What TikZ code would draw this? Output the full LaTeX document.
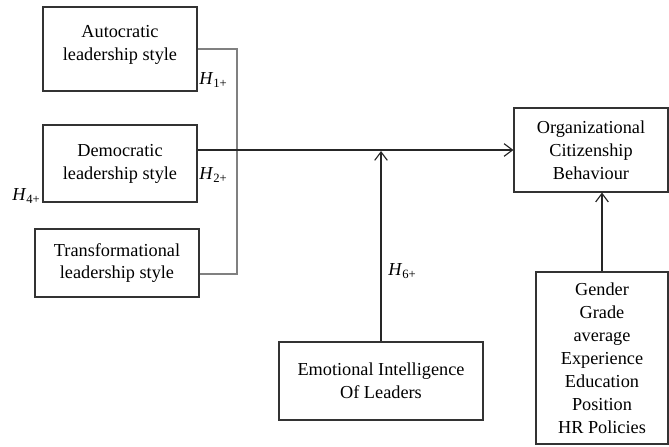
\documentclass[tikz,border=0pt]{standalone}
\usepackage{fontspec}
\setmainfont{Liberation Serif}
\usetikzlibrary{arrows.meta}
\newcommand{\hyp}[1]{\textit{H}\raisebox{-0.45ex}{\fontsize{9}{9}\selectfont #1+}}

\begin{document}
\begin{tikzpicture}[scale=0.25]
\tikzstyle{every node}+=[inner sep=0pt, font=\fontsize{13}{16.3}\selectfont]
\tikzstyle{box}=[draw=black!80, line width=0.8pt, align=center]
\tikzstyle{link}=[draw=black!85, line width=0.8pt]
\tikzstyle{bracket}=[draw=black!50, line width=0.8pt]
\tikzstyle{arr}=[link, -{Straight Barb[length=6pt,width=9pt]}]
\useasboundingbox (0,0) rectangle (66.9,-44.6);
% leadership styles
\node [box, minimum width=3.85cm, minimum height=2.1cm, text depth=8pt] (auto) at (12,-4.9) {Autocratic\\leadership style};
\node [box, minimum width=3.85cm, minimum height=1.925cm] (demo) at (12,-16.35) {Democratic\\leadership style};
\node [box, minimum width=4.1cm, minimum height=1.7cm] (trans) at (11.7,-26.3) {Transformational\\leadership style};
% outcome, moderator, controls
\node [box, minimum width=3.85cm, minimum height=2.1cm] (ocb) at (59.1,-15) {Organizational\\Citizenship\\Behaviour};
\node [box, minimum width=5.1cm, minimum height=1.95cm] (ei) at (38.1,-38.1) {Emotional Intelligence\\Of Leaders};
\node [box, minimum width=3.3cm, minimum height=4.3cm] (ctrl) at (60.2,-35.8) {Gender\\Grade\\average\\Experience\\Education\\Position\\HR Policies};
% hypotheses
\node (h1) at (21.3,-8) {\hyp{1}};
\node (h2) at (21.3,-17.5) {\hyp{2}};
\node (h4) at (2.6,-19.6) {\hyp{4}};
\node (h6) at (40.2,-27.1) {\hyp{6}};
% connectors
\coordinate (bar) at (23.7,-14.8);
\coordinate (tip) at (38.1,-15.1);
\draw [bracket] (auto.east) -| (bar);
\draw [bracket] (trans.east |- 0,-27.4) -| (bar);
\draw [arr] (demo.east |- ocb.west) -- (ocb.west);
\draw [arr] (ei.north) -- (tip);
\draw [arr] (ctrl.north) -- (ctrl.north |- ocb.south);
\end{tikzpicture}
\end{document}
